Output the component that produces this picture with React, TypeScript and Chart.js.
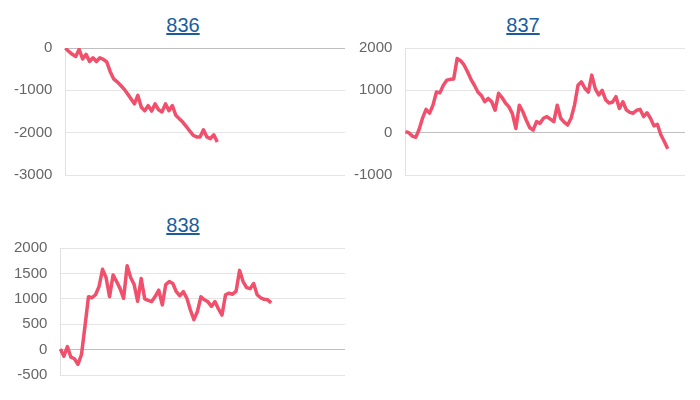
import React, { useEffect, useRef } from "react";
import { Chart, registerables } from "chart.js";

Chart.register(...registerables);

// x positions (game slots) — labels hidden in the reference
const xLabels: string[] = [];
for (let i = 1; i <= 82; i++) xLabels.push(String(i));

// y tick settings
const yTicks836 = { min: -3000, max: 0, step: 1000 };
const yTicks837 = { min: -1000, max: 2000, step: 1000 };
const yTicks838 = { min: -500, max: 2000, step: 500 };

// series values
const s836 = [0, -80, -150, -200, -30, -260, -150, -320, -230, -320, -230, -270, -330, -560, -730, -800, -880, -970, -1080, -1200, -1320, -1120, -1400, -1480, -1360, -1490, -1320, -1460, -1510, -1320, -1480, -1360, -1590, -1670, -1750, -1850, -1960, -2060, -2100, -2100, -1930, -2100, -2140, -2050, -2220];

const s837 = [25, 0, -80, -110, 80, 350, 550, 460, 650, 960, 940, 1120, 1240, 1260, 1270, 1750, 1700, 1600, 1440, 1260, 1120, 960, 880, 730, 810, 730, 530, 930, 830, 700, 610, 450, 100, 650, 500, 300, 120, 60, 260, 220, 340, 380, 320, 260, 650, 340, 250, 180, 340, 650, 1120, 1200, 1050, 960, 1360, 1040, 890, 1000, 780, 700, 720, 850, 570, 730, 540, 480, 460, 530, 550, 380, 470, 340, 160, 200, -50, -210, -380];

const s838 = [10, -130, 60, -150, -180, -290, -100, 460, 1040, 1020, 1080, 1240, 1580, 1420, 1040, 1470, 1340, 1200, 1010, 1650, 1420, 1280, 950, 1400, 1000, 970, 945, 1050, 1170, 880, 1280, 1340, 1300, 1140, 1060, 1140, 1010, 780, 590, 750, 1040, 980, 940, 850, 945, 800, 680, 1080, 1110, 1090, 1150, 1560, 1340, 1220, 1200, 1300, 1080, 1020, 990, 980, 920];

const LINE_COLOR = "rgb(240, 80, 108)";
const FONT = 'Arial, "Liberation Sans", Helvetica, sans-serif';

type Props = {
  title: string;
  data: number[];
  ticks: { min: number; max: number; step: number };
  left: number;
  top: number;
};

function MiniChart({ title, data, ticks, left, top }: Props) {
  const ref = useRef<HTMLCanvasElement | null>(null);
  useEffect(() => {
    if (!ref.current) return;
    const chart = new Chart(ref.current, {
      type: "line",
      data: {
        labels: xLabels,
        datasets: [
          {
            data,
            borderColor: LINE_COLOR,
            backgroundColor: LINE_COLOR,
            borderWidth: 3.5,
            pointRadius: 0,
            fill: false,
            tension: 0,
            borderJoinStyle: "round",
          },
        ],
      },
      options: {
        animation: false,
        responsive: false,
        maintainAspectRatio: false,
        plugins: { legend: { display: false }, tooltip: { enabled: false } },
        layout: { padding: 0 },
        scales: {
          x: { display: false },
          y: {
            min: ticks.min,
            max: ticks.max,
            ticks: {
              stepSize: ticks.step,
              color: "#666",
              padding: 0,
              font: { size: 15, family: FONT },
              callback: (v: any) => String(v),
            },
            grid: {
              drawTicks: true,
              tickLength: 13,
              tickColor: "rgba(0,0,0,0)",
              color: (ctx: any) =>
                ctx.tick && ctx.tick.value === 0 ? "rgba(0,0,0,0.25)" : "rgba(0,0,0,0.1)",
            },
            border: { color: "rgba(0,0,0,0.12)" },
          },
        },
      },
    });
    return () => chart.destroy();
  }, []);
  return (
    <div style={{ position: "absolute", left, top, width: 340, height: 192 }}>
      <div
        style={{
          position: "absolute",
          left: -1,
          top: 6,
          width: 340,
          height: 23,
          lineHeight: "23px",
          textAlign: "center",
          fontFamily: FONT,
          fontSize: 20,
        }}
      >
        <a href="#" style={{ color: "#1a5c9e", textDecoration: "underline" }}>
          {title}
        </a>
      </div>
      <canvas
        ref={ref}
        width={331}
        height={145}
        style={{ position: "absolute", left: 0, top: 31, width: 331, height: 145 }}
      />
    </div>
  );
}

export default function App() {
  return (
    <div style={{ position: "relative", width: 684, height: 384 }}>
      <MiniChart title="836" data={s836} ticks={yTicks836} left={6} top={0} />
      <MiniChart title="837" data={s837} ticks={yTicks837} left={346} top={0} />
      <MiniChart title="838" data={s838} ticks={yTicks838} left={6} top={200} />
    </div>
  );
}
